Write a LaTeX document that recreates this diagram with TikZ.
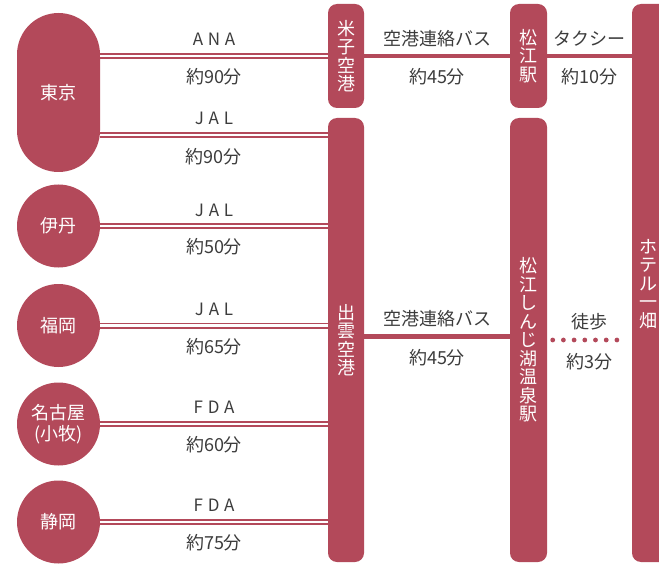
\documentclass[tikz,border=0pt]{standalone}
\usepackage{fontspec}
\setmainfont{Noto Sans CJK JP}
\newfontfamily\widelatin[LetterSpace=28]{Noto Sans CJK JP}

\definecolor{rose}{RGB}{179,73,90}
\definecolor{ink}{RGB}{60,60,60}

\tikzset{
    stopbox/.style = {fill = rose, rounded corners = 9pt, text = white, inner sep = 0pt, align = center,
        font = \fontsize{18}{18.5}\selectfont},
    city/.style = {circle, fill = rose, minimum size = 83pt, text = white, inner sep = 0pt, align = center,
        font = \fontsize{18}{21}\selectfont},
    airline/.style = {draw = rose, line width = 1.6pt, double = white, double distance = 2.8pt},
    busline/.style = {draw = rose, line width = 4.5pt},
    walkline/.style = {draw = rose, line width = 4.8pt, line cap = round, dash pattern = on 0pt off 10.7pt},
    carrier/.style = {text = ink, inner sep = 0pt, font = \widelatin\fontsize{17}{17}\selectfont},
    timetag/.style = {text = ink, inner sep = 0pt, font = \fontsize{18}{18}\selectfont}
}

\begin{document}
\begin{tikzpicture}[x = 1pt, y = -1pt]
    \useasboundingbox (0, 0) rectangle (659, 567);
    \clip (0, 0) rectangle (659, 567);

    % terminals
    \node[stopbox] (yonago) at (346, 56) [minimum width = 36pt, minimum height = 104pt] {米\\子\\空\\港};
    \node[stopbox] (izumo) at (346, 340) [minimum width = 36pt, minimum height = 444pt] {出\\雲\\空\\港};
    \node[stopbox] (matsue) at (528.5, 56) [minimum width = 37pt, minimum height = 104pt] {松\\江\\駅};
    \node[stopbox] (shinjiko) at (528.5, 340) [minimum width = 37pt, minimum height = 444pt] {松\\江\\し\\ん\\じ\\湖\\温\\泉\\駅};
    \node[stopbox] (hotel) at (656, 283) [minimum width = 48pt, minimum height = 558pt] {};
    \node[stopbox, fill = none] (hotelname) at ([xshift = -8pt, yshift = -1pt]hotel.center) {ホ\\テ\\ル\\一\\畑};

    % origins
    \node[city, circle = false, rounded corners = 41.5pt, minimum size = 0pt, minimum width = 83pt, minimum height = 159pt,
        shape = rectangle] (tokyo) at (58.5, 92.5) {東京};
    \node[city] (itami) at (58.5, 226) {伊丹};
    \node[city] (fukuoka) at (58.5, 325.5) {福岡};
    \node[city] (nagoya) at (58.5, 424) {名古屋\\(小牧)};
    \node[city] (shizuoka) at (58.5, 522) {静岡};

    \coordinate (tokyojal) at (100, 135);

    % flights
    \draw[airline] (tokyo.east |- yonago.west) -- (yonago.west)
        node[carrier, midway, yshift = 17pt] {ANA} node[timetag, midway, yshift = -21pt] {約90分};
    \draw[airline] (tokyojal) -- (tokyojal -| izumo.west)
        node[carrier, midway, yshift = 17pt] {JAL} node[timetag, midway, yshift = -22pt] {約90分};
    \draw[airline] (itami.east) -- (itami.east -| izumo.west)
        node[carrier, midway, yshift = 16pt] {JAL} node[timetag, midway, yshift = -21pt] {約50分};
    \draw[airline] (fukuoka.east) -- (fukuoka.east -| izumo.west)
        node[carrier, midway, yshift = 16pt] {JAL} node[timetag, midway, yshift = -21pt] {約65分};
    \draw[airline] (nagoya.east) -- (nagoya.east -| izumo.west)
        node[carrier, midway, yshift = 17pt] {FDA} node[timetag, midway, yshift = -21pt] {約60分};
    \draw[airline] (shizuoka.east) -- (shizuoka.east -| izumo.west)
        node[carrier, midway, yshift = 17pt] {FDA} node[timetag, midway, yshift = -21pt] {約75分};

    % transfers
    \draw[busline] (yonago.east) -- (matsue.west)
        node[timetag, midway, yshift = 17pt] {空港連絡バス} node[timetag, midway, yshift = -21pt] {約45分};
    \draw[busline] (matsue.east) -- (matsue.east -| hotel.west)
        node[timetag, midway, yshift = 17pt] {タクシー} node[timetag, midway, yshift = -21pt] {約10分};
    \draw[busline] ([yshift = 3.5pt]izumo.east) -- ([yshift = 3.5pt]shinjiko.west)
        node[timetag, midway, yshift = 18pt] {空港連絡バス} node[timetag, midway, yshift = -21pt] {約45分};
    \draw[walkline] ([xshift = 5.5pt]shinjiko.east) -- ([xshift = -4.5pt]shinjiko.east -| hotel.west);
    \node[timetag] (walk) at (589.5, 322) {徒歩};
    \node[timetag] (walktime) at (589.5, 362) {約3分};
\end{tikzpicture}
\end{document}
